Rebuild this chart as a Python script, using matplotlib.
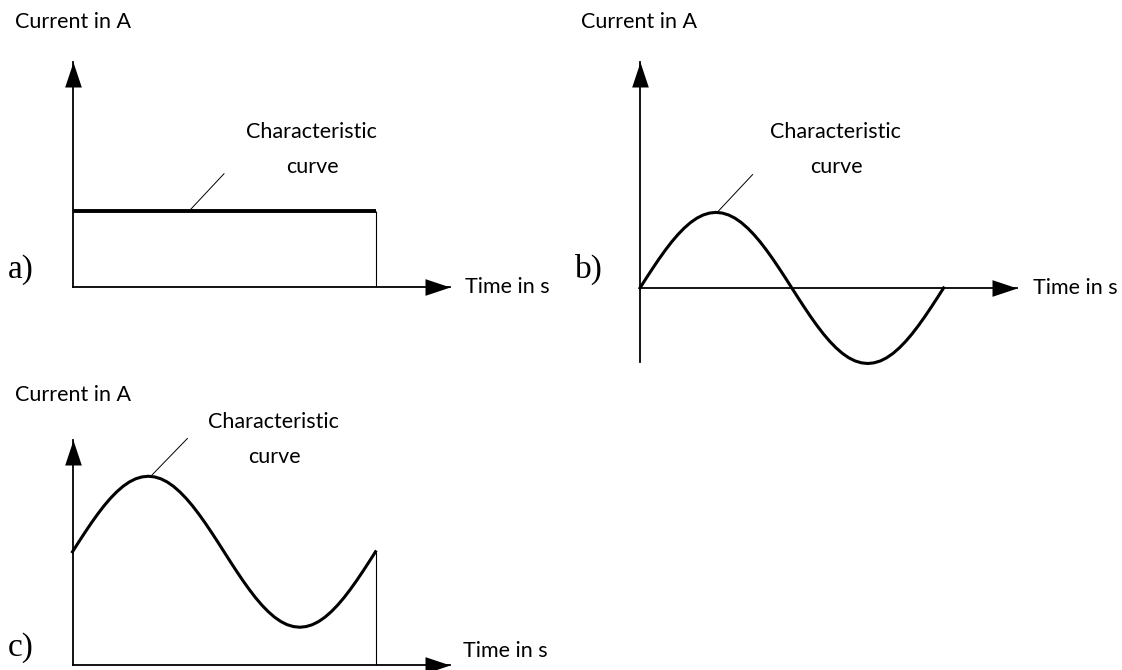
import matplotlib
matplotlib.use("Agg")
import matplotlib.pyplot as plt

plt.rcParams['font.family'] = ['Lato', 'DejaVu Sans']

W, H = 1122, 670

# time samples (arbitrary units, one full period = 24)
time = [0, 0.5, 1, 1.5, 2, 2.5, 3, 3.5, 4, 4.5, 5, 5.5, 6,
        6.5, 7, 7.5, 8, 8.5, 9, 9.5, 10, 10.5, 11, 11.5, 12,
        12.5, 13, 13.5, 14, 14.5, 15, 15.5, 16, 16.5, 17, 17.5, 18,
        18.5, 19, 19.5, 20, 20.5, 21, 21.5, 22, 22.5, 23, 23.5, 24]

# a) direct current
time_a = [0, 24]
current_a = [1.0, 1.0]

# b) alternating current
current_b = [0.0, 0.131, 0.259, 0.383, 0.5, 0.609, 0.707, 0.793, 0.866, 0.924, 0.966, 0.991, 1.0,
             0.991, 0.966, 0.924, 0.866, 0.793, 0.707, 0.609, 0.5, 0.383, 0.259, 0.131, 0.0,
             -0.131, -0.259, -0.383, -0.5, -0.609, -0.707, -0.793, -0.866, -0.924, -0.966, -0.991, -1.0,
             -0.991, -0.966, -0.924, -0.866, -0.793, -0.707, -0.609, -0.5, -0.383, -0.259, -0.131, 0.0]

# c) mixed current
current_c = [1.5, 1.631, 1.759, 1.883, 2.0, 2.109, 2.207, 2.293, 2.366, 2.424, 2.466, 2.491, 2.5,
             2.491, 2.466, 2.424, 2.366, 2.293, 2.207, 2.109, 2.0, 1.883, 1.759, 1.631, 1.5,
             1.369, 1.241, 1.117, 1.0, 0.891, 0.793, 0.707, 0.634, 0.576, 0.534, 0.509, 0.5,
             0.509, 0.534, 0.576, 0.634, 0.707, 0.793, 0.891, 1.0, 1.117, 1.241, 1.369, 1.5]

# leader lines (from curve to label)
leader_a = ([9.2, 12.0], [1.0, 1.5])
leader_b = ([6.1, 8.9], [1.0, 1.5])
leader_c = ([6.2, 9.1], [2.5, 3.0])

arrow_right = [(0, 0), (-3, 1), (-3, -1), (0, 0)]
arrow_up = [(0, 0), (-1, -3), (1, -3), (0, 0)]

fig = plt.figure(figsize=(W / 100, H / 100), dpi=100)


def make_axes(x0, ytop, x1, ybot, xlim, ylim):
    ax = fig.add_axes([x0 / W, 1 - ybot / H, (x1 - x0) / W, (ybot - ytop) / H])
    ax.set_xlim(*xlim)
    ax.set_ylim(*ylim)
    ax.patch.set_alpha(0)
    for s in ['top', 'right']:
        ax.spines[s].set_visible(False)
    ax.spines['bottom'].set_position(('data', 0))
    ax.spines['left'].set_linewidth(1.3)
    ax.spines['bottom'].set_linewidth(1.3)
    ax.set_xticks([])
    ax.set_yticks([])
    ax.plot(1, 0, marker=arrow_right, ms=36, mew=0, color='black',
            transform=ax.get_yaxis_transform(), clip_on=False)
    ax.plot(0, 1, marker=arrow_up, ms=36, mew=0, color='black',
            transform=ax.get_xaxis_transform(), clip_on=False)
    return ax


ax_a = make_axes(72.5, 62, 450, 287, (0, 29.9), (0, 2.98))
ax_a.plot(time_a, current_a, color='black', lw=2.8, solid_capstyle='butt', clip_on=False)
ax_a.vlines(time_a[-1], 0, current_a[-1], color='black', lw=0.8)
ax_a.plot(*leader_a, color='black', lw=0.7, clip_on=False)

ax_b = make_axes(640, 62, 1017, 362, (0, 29.8), (-0.98, 2.99))
ax_b.plot(time, current_b, color='black', lw=2.2, clip_on=False)
ax_b.plot(*leader_b, color='black', lw=0.7, clip_on=False)

ax_c = make_axes(72.5, 440, 450, 665, (0, 29.9), (0, 2.98))
ax_c.plot(time, current_c, color='black', lw=2.2, clip_on=False)
ax_c.vlines(time[-1], 0, current_c[-1], color='black', lw=0.8)
ax_c.plot(*leader_c, color='black', lw=0.7, clip_on=False)

fs = 15.5


def ptext(x, y, s, **kw):
    fig.text(x / W, 1 - y / H, s, **kw)


for x, y in [(15, 22), (581, 22), (15, 395)]:
    ptext(x, y, 'Current in A', fontsize=fs, ha='left', va='center')
for x, y in [(465, 287), (1033, 288), (463, 651)]:
    ptext(x, y, 'Time in s', fontsize=fs, ha='left', va='center')
for x, y in [(311, 132), (835, 132), (273, 422)]:
    ptext(x, y, 'Characteristic', fontsize=fs, ha='center', va='center')
    ptext(x + 1, y + 35, 'curve', fontsize=fs, ha='center', va='center')
for x, y, s in [(8, 270, 'a)'), (575, 269, 'b)'), (8, 648, 'c)')]:
    ptext(x, y, s, fontsize=24, ha='left', va='center', family='Liberation Serif')

fig.savefig('out.png', dpi=100)
